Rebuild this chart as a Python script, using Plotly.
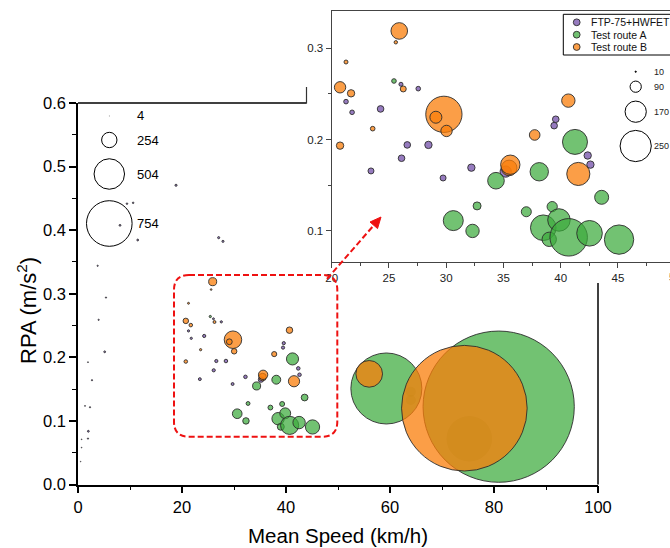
import plotly.graph_objects as go

W, H = 670, 548

series_names = ["FTP-75+HWFET", "Test route A", "Test route B"]
series_fill = ["rgba(132,100,180,0.85)", "rgba(60,170,60,0.72)", "rgba(250,125,10,0.75)"]
hidden_fill = "rgba(60,130,30,0.35)"
outline = "rgba(45,45,45,0.9)"

# FTP-75+HWFET segments: mean speed (km/h), RPA (m/s^2), bubble size
ftp_speed = [18.85, 9.42, 10.6, 8.08, 11.48, 27.05, 27.88, 3.78, 5.38, 3.97, 5.13, 1.92, 2.69,
             1.35, 2.31, 1.99, 1.92, 0.7, 0.7, 0.52,
             26.05, 27.56, 21.25, 21.78, 24.27, 26.6, 28.45, 26.1, 23.43, 29.73, 32.2, 35.2,
             39.57, 39.43, 42.36, 42.6]
ftp_rpa = [0.4706, 0.4417, 0.443, 0.4076, 0.3845, 0.3882, 0.3824, 0.344, 0.294, 0.259, 0.2087,
           0.1924, 0.164, 0.1236, 0.1215, 0.0837, 0.0722, 0.0711, 0.058, 0.036,
           0.2606, 0.2558, 0.2416, 0.2299, 0.2336, 0.1942, 0.1942, 0.1796, 0.1657, 0.158, 0.1693,
           0.165, 0.2223, 0.2153, 0.1826, 0.1726]
ftp_size = [35, 25, 25, 30, 30, 35, 35, 20, 20, 20, 30, 15, 20, 15, 20, 30, 20, 12, 12, 10,
            32, 37, 37, 37, 53, 53, 59, 53, 48, 48, 59, 90, 53, 53, 59, 59]

# Test route A segments
route_a_speed = [25.44, 34.35, 38.13, 41.25, 43.58, 32.7, 30.62, 32.3, 37.0, 39.26, 38.48, 39.0,
                 39.85, 40.7, 42.52, 45.1, 59.3, 80.9]
route_a_rpa = [0.2642, 0.155, 0.1648, 0.1975, 0.1368, 0.1274, 0.1113, 0.1, 0.121, 0.1266, 0.1035,
               0.0908, 0.112, 0.093, 0.0974, 0.0905, 0.151, 0.1224]
route_a_size = [37, 133, 147, 200, 112, 64, 160, 107, 80, 82, 205, 115, 180, 300, 205, 235,
                1174, 2500]
# Test route A segments lying fully underneath larger bubbles
hidden_a_speed = [75.25, 64.0, 64.0]
hidden_a_rpa = [0.072, 0.146, 0.133]
hidden_a_size = [754, 165, 165]

# Test route B segments
route_b_speed = [25.9, 25.6, 21.25, 20.73, 21.69, 26.25, 23.58, 20.73, 29.8, 29.1, 30.03, 35.5,
                 35.6, 37.73, 40.67, 41.54, 56.0, 74.3]
route_b_rpa = [0.319, 0.3066, 0.285, 0.2573, 0.2507, 0.2555, 0.212, 0.1934, 0.2277, 0.2245,
               0.2095, 0.169, 0.1725, 0.2051, 0.2427, 0.1624, 0.174, 0.12]
route_b_size = [133, 27, 32, 91, 59, 48, 37, 59, 290, 96, 91, 125, 155, 85, 107, 185, 441, 2076]

main_size_ticks = [4, 254, 504, 754]
inset_size_ticks = [10, 90, 170, 250]

MAIN_PX = 0.0605   # bubble diameter (px) per size unit, main axes
INSET_PX = 0.125   # bubble diameter (px) per size unit, zoomed inset

FONT = "Liberation Sans, Arial, sans-serif"


def px_x(p):
    return p / W


def px_y(p):
    return 1 - p / H


fig = go.Figure()

groups = [
    (ftp_speed, ftp_rpa, ftp_size, 0, series_fill[0], True),
    (hidden_a_speed, hidden_a_rpa, hidden_a_size, 1, hidden_fill, False),
    (route_a_speed, route_a_rpa, route_a_size, 1, series_fill[1], True),
    (route_b_speed, route_b_rpa, route_b_size, 2, series_fill[2], True),
]
for xa, ya, px_per in (("x", "y", MAIN_PX), ("x2", "y2", INSET_PX)):
    for sx, sy, ss, k, fill, edged in groups:
        fig.add_trace(go.Scatter(
            x=sx, y=sy, mode="markers", xaxis=xa, yaxis=ya,
            name=series_names[k], showlegend=False, hoverinfo="skip",
            marker=dict(size=ss, sizemode="diameter", sizeref=1 / px_per,
                        color=fill, opacity=1,
                        line=dict(color=outline if edged else "rgba(0,0,0,0)",
                                  width=1 if edged else 0)),
        ))

axis_common = dict(showgrid=False, zeroline=False, showline=True, ticks="outside",
                   automargin=False)

fig.update_layout(
    width=W, height=H, margin=dict(l=0, r=0, t=0, b=0),
    paper_bgcolor="white", plot_bgcolor="white", showlegend=False,
    font=dict(family=FONT, color="black"),
    xaxis=dict(axis_common, domain=[px_x(78), px_x(598)], range=[0, 100], anchor="y",
               tick0=0, dtick=20, ticklen=7, tickwidth=1.5, tickcolor="black",
               linecolor="black", linewidth=1.5, tickfont=dict(size=16.5),
               minor=dict(ticks="outside", dtick=10, ticklen=4, tickwidth=1.2,
                          tickcolor="black")),
    yaxis=dict(axis_common, domain=[px_y(484.5), px_y(103)], range=[0, 0.6], anchor="x",
               tick0=0, dtick=0.1, tickformat=".1f", ticklen=7, tickwidth=1.5,
               tickcolor="black", linecolor="black", linewidth=1.5, tickfont=dict(size=16.5),
               minor=dict(ticks="outside", dtick=0.05, ticklen=4, tickwidth=1.2,
                          tickcolor="black")),
    xaxis2=dict(axis_common, domain=[px_x(331.7), 1], range=[20, 49.55], anchor="y2",
                mirror=True, tick0=20, dtick=5, ticklen=5, tickwidth=1, tickcolor="#444",
                linecolor="#444", linewidth=1.3, tickfont=dict(size=11.5, color="#222"),
                minor=dict(ticks="outside", dtick=2.5, ticklen=3, tickwidth=1,
                           tickcolor="#444")),
    yaxis2=dict(axis_common, domain=[px_y(261.7), px_y(10.5)], range=[0.0663, 0.3414],
                anchor="x2", mirror=True, tick0=0, dtick=0.1, tickformat=".1f", ticklen=5,
                tickwidth=1, tickcolor="#444", linecolor="#444", linewidth=1.3,
                tickfont=dict(size=11.5, color="#222"),
                minor=dict(ticks="outside", dtick=0.05, ticklen=3, tickwidth=1,
                           tickcolor="#444")),
)

shapes = []
annotations = []

# remaining pieces of the main frame, interrupted by the inset
shapes.append(dict(type="line", xref="paper", yref="paper", x0=px_x(78), x1=px_x(306.5),
                   y0=px_y(103), y1=px_y(103), line=dict(color="black", width=1.5)))
shapes.append(dict(type="line", xref="paper", yref="paper", x0=px_x(306.5), x1=px_x(306.5),
                   y0=px_y(87), y1=px_y(103.5), line=dict(color="#333", width=1.2)))
shapes.append(dict(type="line", xref="paper", yref="paper", x0=px_x(598), x1=px_x(598),
                   y0=px_y(283), y1=px_y(484.5), line=dict(color="black", width=1.5)))

# dashed rounded box around the zoomed region
x0, x1, y0, y1, r = 174, 337.3, 275, 436.7, 15


def P(a, b):
    return f"{px_x(a):.5f},{px_y(b):.5f}"


box_path = (f"M {P(x0 + r, y0)} L {P(x1 - r, y0)} Q {P(x1, y0)} {P(x1, y0 + r)} "
            f"L {P(x1, y1 - r)} Q {P(x1, y1)} {P(x1 - r, y1)} L {P(x0 + r, y1)} "
            f"Q {P(x0, y1)} {P(x0, y1 - r)} L {P(x0, y0 + r)} Q {P(x0, y0)} {P(x0 + r, y0)} Z")
shapes.append(dict(type="path", xref="paper", yref="paper", path=box_path,
                   line=dict(color="#ee1111", width=2, dash="6px,3px"), layer="above"))

# dashed arrow pointing to the inset
sx_, sy_ = 327, 279
tx_, ty_ = 381, 217
dx, dy = tx_ - sx_, ty_ - sy_
L = (dx ** 2 + dy ** 2) ** 0.5
ux, uy = dx / L, dy / L
bx, by = tx_ - 11 * ux, ty_ - 11 * uy
nx, ny = -uy, ux
shapes.append(dict(type="line", xref="paper", yref="paper", x0=px_x(sx_), y0=px_y(sy_),
                   x1=px_x(bx), y1=px_y(by),
                   line=dict(color="#ee1111", width=2, dash="6px,3px"), layer="above"))
shapes.append(dict(type="path", xref="paper", yref="paper", layer="above",
                   path=f"M {P(tx_, ty_)} L {P(bx + 5 * nx, by + 5 * ny)} "
                        f"L {P(bx - 5 * nx, by - 5 * ny)} Z",
                   fillcolor="#ee1111", line=dict(color="#ee1111", width=1)))

# bubble-size key, main axes
main_key_y = [116, 140, 174, 223.5]
for v, yy in zip(main_size_ticks, main_key_y):
    d = v * MAIN_PX
    shapes.append(dict(type="circle", xref="paper", yref="paper",
                       xsizemode="pixel", ysizemode="pixel",
                       xanchor=px_x(109.3), yanchor=px_y(yy),
                       x0=-d / 2, x1=d / 2, y0=-d / 2, y1=d / 2,
                       line=dict(color="black", width=1 if v > 10 else 0.6)))
    annotations.append(dict(xref="paper", yref="paper", x=px_x(134.5), y=px_y(yy),
                            xanchor="left", yanchor="middle", showarrow=False,
                            text=str(v), font=dict(size=13, color="black")))

# bubble-size key, inset
inset_key_y = [71.7, 86.7, 111.7, 146]
for v, yy in zip(inset_size_ticks, inset_key_y):
    d = v * INSET_PX
    shapes.append(dict(type="circle", xref="paper", yref="paper",
                       xsizemode="pixel", ysizemode="pixel",
                       xanchor=px_x(635.7), yanchor=px_y(yy),
                       x0=-d / 2, x1=d / 2, y0=-d / 2, y1=d / 2,
                       fillcolor="black" if v <= 10 else "rgba(0,0,0,0)",
                       line=dict(color="black", width=1)))
    annotations.append(dict(xref="paper", yref="paper", x=px_x(652), y=px_y(yy),
                            xanchor="left", yanchor="middle", showarrow=False,
                            text=str(v), font=dict(size=9, color="#222")))

# series legend in the inset
shapes.append(dict(type="rect", xref="paper", yref="paper", x0=px_x(563.3), x1=px_x(672),
                   y0=px_y(14.3), y1=px_y(55), fillcolor="white",
                   line=dict(color="black", width=1)))
legend_y = [22.3, 34.7, 47]
for k, yy in enumerate(legend_y):
    shapes.append(dict(type="circle", xref="paper", yref="paper",
                       xsizemode="pixel", ysizemode="pixel",
                       xanchor=px_x(576.7), yanchor=px_y(yy),
                       x0=-3.4, x1=3.4, y0=-3.4, y1=3.4,
                       fillcolor=series_fill[k], line=dict(color=outline, width=1)))
    annotations.append(dict(xref="paper", yref="paper", x=px_x(588.5), y=px_y(yy),
                            xanchor="left", yanchor="middle", showarrow=False,
                            text=series_names[k], font=dict(size=10.5, color="#111")))

# last inset tick label, running off the right edge
annotations.append(dict(xref="paper", yref="paper", x=px_x(331.7 + 30 * 11.45), y=px_y(276.5),
                        xanchor="center", yanchor="middle", showarrow=False, text="50",
                        font=dict(size=11.5, color="#222")))

# axis titles
annotations.append(dict(xref="paper", yref="paper", x=px_x(338), y=px_y(535),
                        xanchor="center", yanchor="middle", showarrow=False,
                        text="Mean Speed (km/h)", font=dict(size=20.5, color="black")))
annotations.append(dict(xref="paper", yref="paper", x=px_x(27), y=px_y(311),
                        xanchor="center", yanchor="middle", showarrow=False, textangle=-90,
                        text="RPA (m/s<sup>2</sup>)", font=dict(size=22, color="black")))

fig.update_layout(shapes=shapes, annotations=annotations)

fig.write_html("out.html")
